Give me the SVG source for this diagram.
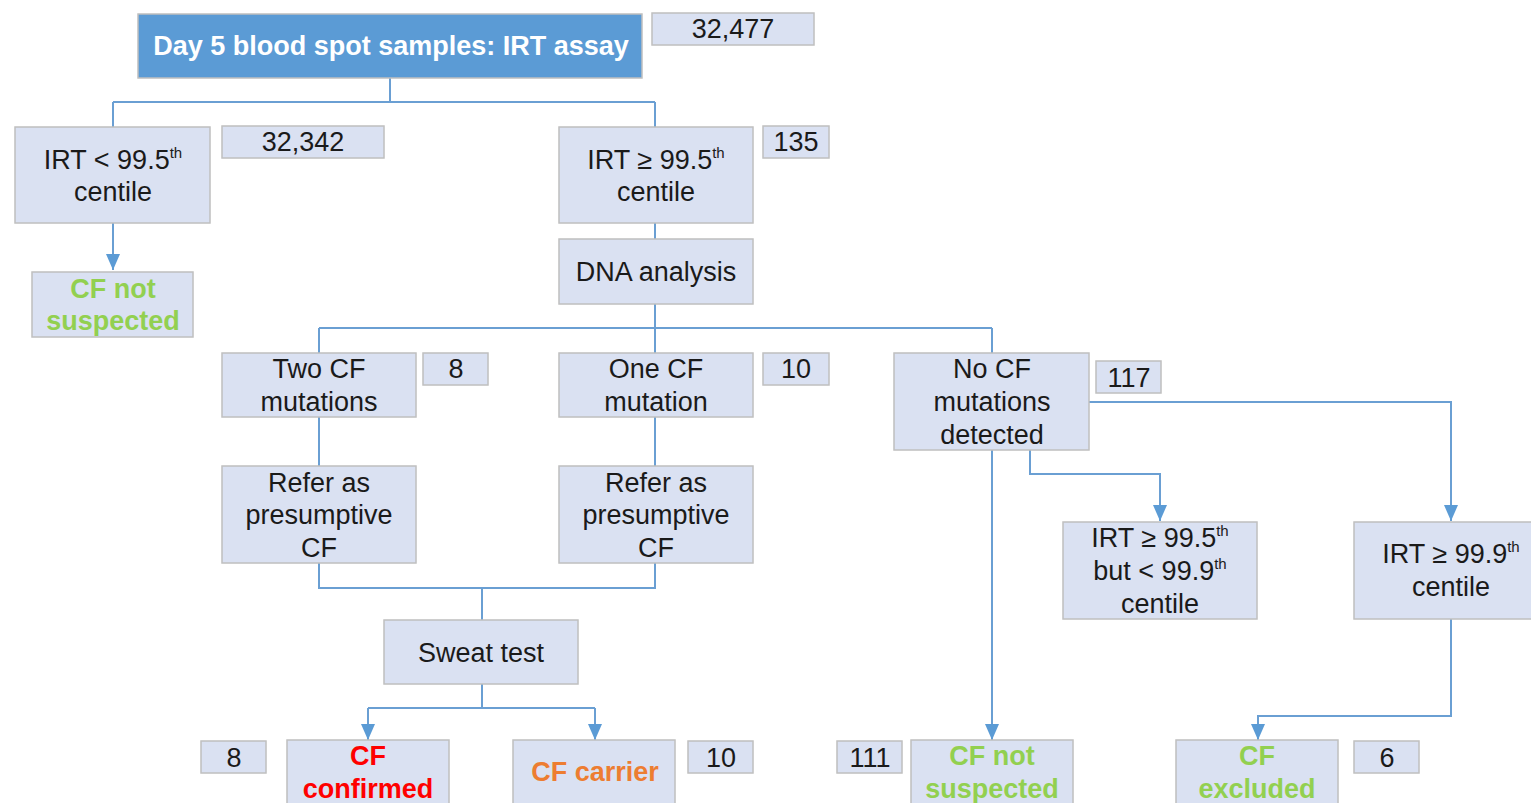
<svg xmlns="http://www.w3.org/2000/svg" width="1531" height="803" viewBox="0 0 1531 803">
  <style>
    .box { fill: #DAE1F2; stroke: #BFBFBF; stroke-width: 1.5; }
    .head { fill: #5B9BD5; stroke: #BFBFBF; stroke-width: 1.5; }
    .t { font-family: "Liberation Sans", Arial, sans-serif; font-size: 27px; fill: #1A1A1A; text-anchor: middle; }
    .ht { font-family: "Liberation Sans", Arial, sans-serif; font-size: 27px; font-weight: bold; fill: #FFFFFF; text-anchor: middle; }
    .green { fill: #92D050; font-weight: bold; }
    .red { fill: #FF0000; font-weight: bold; }
    .orange { fill: #ED7D31; font-weight: bold; }
    .sup { font-size: 15px; }
    .conn { fill: none; stroke: #6A9FD3; stroke-width: 2; }
  </style>
  <defs>
    <marker id="tri" viewBox="0 0 16 14" markerWidth="16" markerHeight="14" refX="16" refY="7" orient="auto" markerUnits="userSpaceOnUse">
      <path d="M0,0 L16,7 L0,14 Z" fill="#5B9BD5"/>
    </marker>
  </defs>

  <g id="connectors">
    <path class="conn" d="M390,78 V102 M113,102 H655 M113,102 V127 M655,102 V127"/>
    <path class="conn" d="M113,223 V270" marker-end="url(#tri)"/>
    <path class="conn" d="M655,223 V239"/>
    <path class="conn" d="M655,304 V328 M319,328 H992 M319,328 V353 M655,328 V353 M992,328 V353"/>
    <path class="conn" d="M319,417 V466 M655,417 V466"/>
    <path class="conn" d="M319,563 V588 H655 V563 M482,588 V620"/>
    <path class="conn" d="M482,684 V708 M368,708 H595"/>
    <path class="conn" d="M368,708 V740" marker-end="url(#tri)"/>
    <path class="conn" d="M595,708 V740" marker-end="url(#tri)"/>
    <path class="conn" d="M992,450 V740" marker-end="url(#tri)"/>
    <path class="conn" d="M1030,450 V474 H1160 V521" marker-end="url(#tri)"/>
    <path class="conn" d="M1089,402 H1451 V521" marker-end="url(#tri)"/>
    <path class="conn" d="M1451,619 V716 H1258 V740" marker-end="url(#tri)"/>
  </g>

  <g id="n-start">
    <rect class="head" x="138" y="14" width="504" height="64"/>
    <text class="ht" x="391" y="55">Day 5 blood spot samples: IRT assay</text>
  </g>
  <g id="c-start">
    <rect class="box" x="652" y="13" width="162" height="32"/>
    <text class="t" x="733" y="38">32,477</text>
  </g>

  <g id="n-irt-low">
    <rect class="box" x="15" y="127" width="195" height="96"/>
    <text class="t" x="113" y="169">IRT &lt; 99.5<tspan class="sup" dy="-11">th</tspan></text>
    <text class="t" x="113" y="201">centile</text>
  </g>
  <g id="c-irt-low">
    <rect class="box" x="222" y="126" width="162" height="32"/>
    <text class="t" x="303" y="151">32,342</text>
  </g>

  <g id="n-cf-not-1">
    <rect class="box" x="32" y="272" width="161" height="65"/>
    <text class="t green" x="113" y="298">CF not</text>
    <text class="t green" x="113" y="330">suspected</text>
  </g>

  <g id="n-irt-high">
    <rect class="box" x="559" y="127" width="194" height="96"/>
    <text class="t" x="656" y="169">IRT ≥ 99.5<tspan class="sup" dy="-11">th</tspan></text>
    <text class="t" x="656" y="201">centile</text>
  </g>
  <g id="c-irt-high">
    <rect class="box" x="763" y="126" width="66" height="32"/>
    <text class="t" x="796" y="151">135</text>
  </g>

  <g id="n-dna">
    <rect class="box" x="559" y="239" width="194" height="65"/>
    <text class="t" x="656" y="281">DNA analysis</text>
  </g>

  <g id="n-two">
    <rect class="box" x="222" y="353" width="194" height="64"/>
    <text class="t" x="319" y="378">Two CF</text>
    <text class="t" x="319" y="411">mutations</text>
  </g>
  <g id="c-two">
    <rect class="box" x="423" y="353" width="65" height="32"/>
    <text class="t" x="456" y="378">8</text>
  </g>

  <g id="n-one">
    <rect class="box" x="559" y="353" width="194" height="64"/>
    <text class="t" x="656" y="378">One CF</text>
    <text class="t" x="656" y="411">mutation</text>
  </g>
  <g id="c-one">
    <rect class="box" x="763" y="353" width="66" height="32"/>
    <text class="t" x="796" y="378">10</text>
  </g>

  <g id="n-none">
    <rect class="box" x="894" y="353" width="195" height="97"/>
    <text class="t" x="992" y="378">No CF</text>
    <text class="t" x="992" y="411">mutations</text>
    <text class="t" x="992" y="444">detected</text>
  </g>
  <g id="c-none">
    <rect class="box" x="1096" y="361" width="65" height="32"/>
    <text class="t" x="1129" y="387">117</text>
  </g>

  <g id="n-refer-1">
    <rect class="box" x="222" y="466" width="194" height="97"/>
    <text class="t" x="319" y="492">Refer as</text>
    <text class="t" x="319" y="524">presumptive</text>
    <text class="t" x="319" y="557">CF</text>
  </g>
  <g id="n-refer-2">
    <rect class="box" x="559" y="466" width="194" height="97"/>
    <text class="t" x="656" y="492">Refer as</text>
    <text class="t" x="656" y="524">presumptive</text>
    <text class="t" x="656" y="557">CF</text>
  </g>

  <g id="n-irt-mid">
    <rect class="box" x="1063" y="522" width="194" height="97"/>
    <text class="t" x="1160" y="547">IRT ≥ 99.5<tspan class="sup" dy="-11">th</tspan></text>
    <text class="t" x="1160" y="580">but &lt; 99.9<tspan class="sup" dy="-11">th</tspan></text>
    <text class="t" x="1160" y="613">centile</text>
  </g>
  <g id="n-irt-top">
    <rect class="box" x="1354" y="522" width="194" height="97"/>
    <text class="t" x="1451" y="563">IRT ≥ 99.9<tspan class="sup" dy="-11">th</tspan></text>
    <text class="t" x="1451" y="596">centile</text>
  </g>

  <g id="n-sweat">
    <rect class="box" x="384" y="620" width="194" height="64"/>
    <text class="t" x="481" y="662">Sweat test</text>
  </g>

  <g id="c-confirmed">
    <rect class="box" x="201" y="741" width="65" height="32"/>
    <text class="t" x="234" y="767">8</text>
  </g>
  <g id="n-confirmed">
    <rect class="box" x="287" y="740" width="162" height="70"/>
    <text class="t red" x="368" y="765">CF</text>
    <text class="t red" x="368" y="798">confirmed</text>
  </g>

  <g id="n-carrier">
    <rect class="box" x="513" y="740" width="162" height="70"/>
    <text class="t orange" x="595" y="781">CF carrier</text>
  </g>
  <g id="c-carrier">
    <rect class="box" x="688" y="741" width="65" height="32"/>
    <text class="t" x="721" y="767">10</text>
  </g>

  <g id="c-cf-not-2">
    <rect class="box" x="837" y="741" width="65" height="32"/>
    <text class="t" x="870" y="767">111</text>
  </g>
  <g id="n-cf-not-2">
    <rect class="box" x="911" y="740" width="162" height="70"/>
    <text class="t green" x="992" y="765">CF not</text>
    <text class="t green" x="992" y="798">suspected</text>
  </g>

  <g id="n-excluded">
    <rect class="box" x="1176" y="740" width="162" height="70"/>
    <text class="t green" x="1257" y="765">CF</text>
    <text class="t green" x="1257" y="798">excluded</text>
  </g>
  <g id="c-excluded">
    <rect class="box" x="1354" y="741" width="65" height="32"/>
    <text class="t" x="1387" y="767">6</text>
  </g>
</svg>
